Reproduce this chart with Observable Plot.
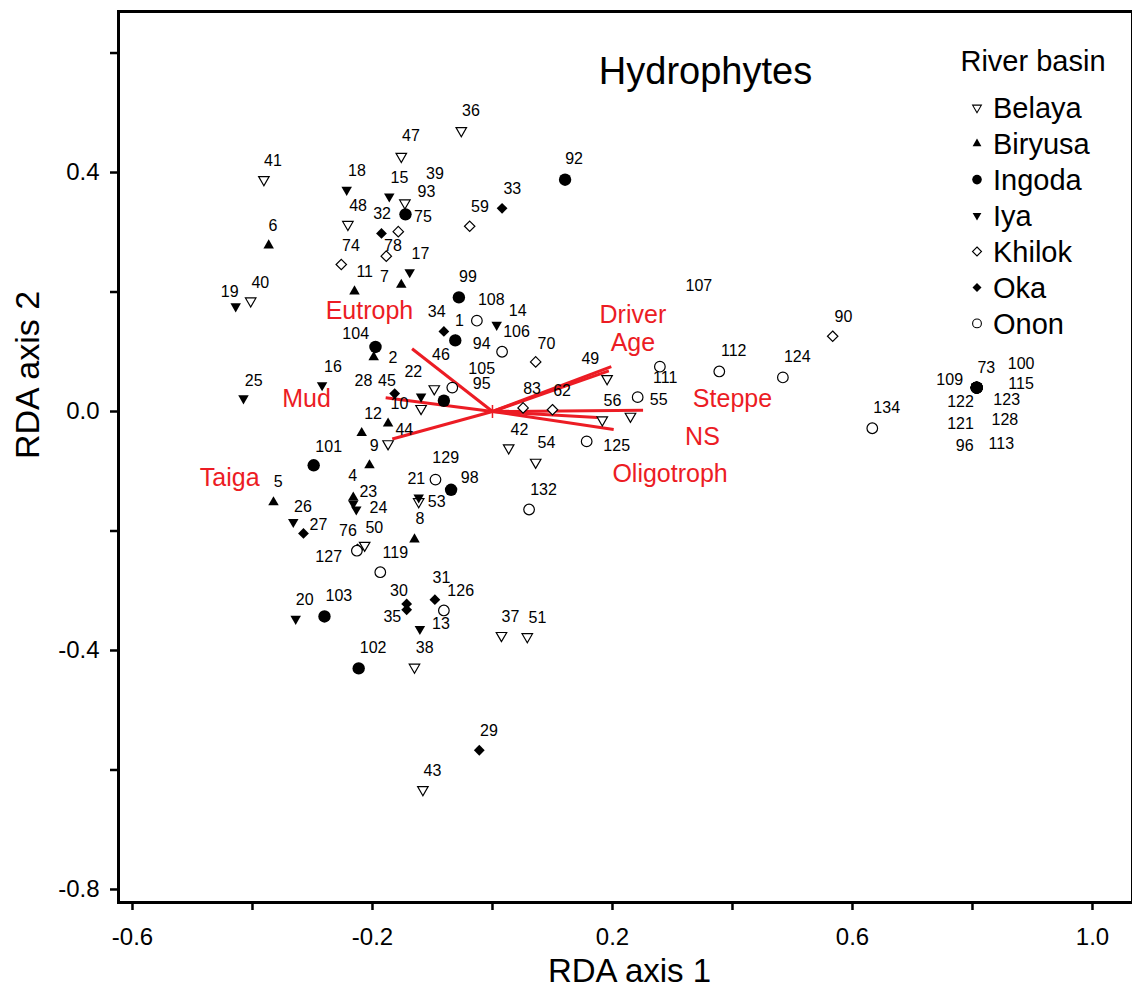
<!DOCTYPE html>
<html><head><meta charset="utf-8">
<script src="https://cdn.jsdelivr.net/npm/d3@7"></script>
<script src="https://cdn.jsdelivr.net/npm/@observablehq/plot@0.6"></script>
<style>
html,body{margin:0;padding:0;background:#fff;}
#chart{width:1132px;height:994px;}
</style></head><body><div id="chart"></div>
<script>
// ---------------- data ----------------
const basins = ["Belaya","Biryusa","Ingoda","Iya","Khilok","Oka","Onon"];
// each site: [id, RDA axis 1, RDA axis 2, label axis 1, label axis 2]
const belaya = [
 ["36",-0.052,0.470,-0.036,0.503],["47",-0.152,0.427,-0.136,0.461],["41",-0.381,0.388,-0.366,0.419],
 ["39",-0.146,0.349,-0.096,0.397],["48",-0.241,0.313,-0.224,0.344],["40",-0.403,0.185,-0.387,0.216],
 ["45",-0.119,0.005,-0.176,0.052],["46",-0.097,0.038,-0.086,0.095],["44",-0.174,-0.054,-0.147,-0.031],
 ["42",0.027,-0.061,0.045,-0.031],["54",0.072,-0.085,0.090,-0.053],["49",0.191,0.055,0.163,0.088],
 ["56",0.183,-0.014,0.200,0.017],["55",0.230,-0.008,0.277,0.020],["50",-0.213,-0.224,-0.197,-0.195],
 ["53",-0.123,-0.151,-0.093,-0.152],["38",-0.130,-0.428,-0.113,-0.396],["37",0.015,-0.375,0.030,-0.344],
 ["51",0.058,-0.377,0.075,-0.345],["43",-0.116,-0.633,-0.100,-0.602]
];
const biryusa = [
 ["6",-0.373,0.278,-0.366,0.311],["11",-0.230,0.201,-0.213,0.233],["7",-0.152,0.212,-0.180,0.226],
 ["2",-0.198,0.091,-0.166,0.090],["10",-0.174,-0.020,-0.155,0.013],["12",-0.218,-0.036,-0.199,-0.004],
 ["9",-0.205,-0.090,-0.197,-0.057],["4",-0.232,-0.144,-0.233,-0.108],["5",-0.365,-0.152,-0.357,-0.118],
 ["8",-0.130,-0.214,-0.121,-0.180],["1",-0.062,0.119,-0.055,0.152]
];
const iya = [
 ["18",-0.243,0.371,-0.226,0.402],["15",-0.172,0.360,-0.155,0.391],["17",-0.138,0.233,-0.120,0.264],
 ["19",-0.428,0.176,-0.438,0.201],["14",0.007,0.145,0.042,0.169],["16",-0.284,0.044,-0.266,0.074],
 ["25",-0.415,0.022,-0.398,0.052],["22",-0.119,0.025,-0.132,0.067],["21",-0.123,-0.144,-0.127,-0.113],
 ["23",-0.232,-0.154,-0.207,-0.134],["24",-0.227,-0.164,-0.190,-0.162],["26",-0.332,-0.185,-0.316,-0.159],
 ["20",-0.328,-0.347,-0.313,-0.316],["13",-0.121,-0.364,-0.086,-0.355]
];
const ingoda = [
 ["92",0.121,0.388,0.136,0.422],["93",-0.145,0.330,-0.110,0.367],["99",-0.056,0.191,-0.041,0.225],
 ["104",-0.195,0.108,-0.228,0.130],["94",-0.062,0.119,-0.018,0.114],["95",-0.081,0.018,-0.018,0.047],
 ["101",-0.298,-0.090,-0.273,-0.060],["98",-0.069,-0.131,-0.038,-0.111],["103",-0.280,-0.343,-0.256,-0.308],
 ["102",-0.223,-0.430,-0.199,-0.396],["96",0.807,0.040,0.787,-0.057],["100",0.807,0.040,0.881,0.080],
 ["73",0.807,0.040,0.823,0.073]
];
const khilok = [
 ["59",-0.038,0.310,-0.021,0.342],["75",-0.157,0.301,-0.116,0.325],["78",-0.177,0.260,-0.166,0.278],
 ["74",-0.252,0.246,-0.236,0.278],["70",0.072,0.083,0.090,0.114],["83",0.051,0.006,0.066,0.038],
 ["62",0.100,0.003,0.116,0.034],["90",0.567,0.126,0.585,0.158],["76",-0.225,-0.231,-0.241,-0.200]
];
const oka = [
 ["33",0.016,0.340,0.033,0.373],["32",-0.185,0.298,-0.184,0.330],["34",-0.081,0.134,-0.093,0.166],
 ["28",-0.163,0.030,-0.215,0.052],["27",-0.315,-0.204,-0.290,-0.189],["30",-0.143,-0.322,-0.156,-0.300],
 ["35",-0.143,-0.332,-0.167,-0.344],["31",-0.096,-0.315,-0.085,-0.279],["29",-0.022,-0.567,-0.006,-0.535]
];
const onon = [
 ["108",-0.026,0.152,-0.002,0.187],["106",0.016,0.100,0.040,0.134],["105",-0.067,0.040,-0.018,0.072],
 ["111",0.279,0.075,0.288,0.057],["112",0.378,0.067,0.402,0.101],["124",0.484,0.057,0.508,0.091],
 ["134",0.633,-0.028,0.657,0.006],["107",0.242,0.024,0.344,0.211],["125",0.157,-0.050,0.207,-0.058],
 ["129",-0.095,-0.114,-0.078,-0.077],["132",0.061,-0.164,0.085,-0.131],["127",-0.226,-0.233,-0.273,-0.244],
 ["119",-0.187,-0.269,-0.162,-0.236],["126",-0.081,-0.333,-0.053,-0.301],["109",0.807,0.040,0.762,0.053],
 ["115",0.807,0.040,0.881,0.047],["122",0.807,0.040,0.780,0.016],["123",0.807,0.040,0.857,0.020],
 ["121",0.807,0.040,0.780,-0.020],["128",0.807,0.040,0.854,-0.014],["113",0.807,0.040,0.848,-0.055]
];
// environmental variables (biplot arrows)
const envVars = ["Eutroph","Mud","Taiga","Driver","Age","Steppe","NS","Oligotroph"];
const envAxis1 = [-0.134,-0.178,-0.167,0.198,0.194,0.251,0.175,0.202];
const envAxis2 = [0.105,0.023,-0.046,0.075,0.068,0.002,-0.010,-0.030];
const envLabelAxis1 = [-0.205,-0.310,-0.438,0.234,0.234,0.400,0.350,0.296];
const envLabelAxis2 = [0.169,0.021,-0.112,0.161,0.114,0.021,-0.042,-0.104];
const origin = [0, 0];
// ticks
const xTicks = [-0.6,-0.4,-0.2,0,0.2,0.4,0.6,0.8,1.0];
const xTickLabels = ["-0.6","","-0.2","","0.2","","0.6","","1.0"];
const yTicks = [-0.8,-0.6,-0.4,-0.2,0,0.2,0.4,0.6];
const yTickLabels = ["-0.8","","-0.4","","0.0","","0.4",""];

// ---------------- symbols ----------------
const SQ3 = Math.sqrt(3);
const triDown = {draw(ctx, size){const r=Math.sqrt(size/Math.PI), a=1.75*r, R=a/SQ3;
  ctx.moveTo(0,R); ctx.lineTo(-a/2,-R/2); ctx.lineTo(a/2,-R/2); ctx.closePath();}};
const triUp = {draw(ctx, size){const r=Math.sqrt(size/Math.PI), a=1.75*r, R=a/SQ3;
  ctx.moveTo(0,-R); ctx.lineTo(-a/2,R/2); ctx.lineTo(a/2,R/2); ctx.closePath();}};
const diamond = {draw(ctx, size){const r=Math.sqrt(size/Math.PI), h=0.9*r;
  ctx.moveTo(0,-h); ctx.lineTo(h,0); ctx.lineTo(0,h); ctx.lineTo(-h,0); ctx.closePath();}};
const circ = {draw(ctx, size){const r=Math.sqrt(size/Math.PI);
  ctx.moveTo(r,0); ctx.arc(0,0,r,0,2*Math.PI);}};
const plusSym = {draw(ctx, size){const r=Math.sqrt(size/Math.PI);
  ctx.moveTo(0,-r); ctx.lineTo(0,r); ctx.moveTo(-r*0.6,0); ctx.lineTo(r*0.6,0);}};

const basinStyle = {
  Belaya:  {data: belaya,  symbol: triDown, filled: false, r: 6},
  Biryusa: {data: biryusa, symbol: triUp,   filled: true,  r: 6},
  Ingoda:  {data: ingoda,  symbol: circ,    filled: true,  r: 6.2},
  Iya:     {data: iya,     symbol: triDown, filled: true,  r: 6},
  Khilok:  {data: khilok,  symbol: diamond, filled: false, r: 5.8},
  Oka:     {data: oka,     symbol: diamond, filled: true,  r: 6},
  Onon:    {data: onon,    symbol: circ,    filled: false, r: 5.3}
};
const toRows = (arr, basin) => arr.map(([id,x,y,lx,ly]) => ({id, basin, x, y, lx, ly}));
const allSites = basins.flatMap(b => toRows(basinStyle[b].data, b));
const envRows = envVars.map((name,i) => ({name, x: envAxis1[i], y: envAxis2[i], lx: envLabelAxis1[i], ly: envLabelAxis2[i]}));

const RED = "#ec1c24";
const FONT = "'Liberation Sans', Arial, Helvetica, sans-serif";
const drawOrder = ["Belaya","Khilok","Onon","Biryusa","Iya","Oka","Ingoda"];

const dotMarks = drawOrder.map(b => {
  const s = basinStyle[b];
  return Plot.dot(toRows(s.data, b), {
    x: "x", y: "y", r: s.r, symbol: s.symbol,
    fill: s.filled ? "black" : "white",
    stroke: s.filled ? "none" : "black",
    strokeWidth: 1.2
  });
});

const fmt = (ticks, labels) => d => labels[ticks.findIndex(t => Math.abs(t - d) < 1e-9)] ?? "";

const chart = Plot.plot({
  width: 1132, height: 994,
  marginLeft: 118, marginRight: 0, marginTop: 11, marginBottom: 92,
  x: {domain: [-0.6233, 1.0667]},
  y: {domain: [-0.8218, 0.6695]},
  style: {fontFamily: FONT, background: "white", color: "black", overflow: "visible"},
  marks: [
    Plot.axisX(xTicks, {tickFormat: fmt(xTicks, xTickLabels), tickSize: 8, tickPadding: 17, fontSize: 24, strokeWidth: 2.5, label: null}),
    Plot.axisY(yTicks, {tickFormat: fmt(yTicks, yTickLabels), tickSize: 8, tickPadding: 11, fontSize: 24, strokeWidth: 2.5, label: null}),
    Plot.link(envRows, {x1: () => origin[0], y1: () => origin[1], x2: "x", y2: "y", stroke: RED, strokeWidth: 3}),
    Plot.dot([origin], {x: d => d[0], y: d => d[1], r: 6.5, symbol: plusSym, stroke: RED, fill: "none", strokeWidth: 1.5}),
    ...dotMarks,
    Plot.text(allSites, {x: "lx", y: "ly", text: "id", fontSize: 16, fill: "black"}),
    Plot.text(envRows, {x: "lx", y: "ly", text: "name", fontSize: 25, fill: RED}),
    Plot.text(["Hydrophytes"], {frameAnchor: "top", dx: 80, dy: 46, fontSize: 38, fill: "black"}),
    Plot.text(["RDA axis 1"], {frameAnchor: "bottom", dx: 4, dy: 79, fontSize: 33, fill: "black"}),
    Plot.text(["RDA axis 2"], {frameAnchor: "left", dx: -90, dy: 2, rotate: -90, fontSize: 34, fill: "black"}),
    Plot.frame({stroke: "black", strokeWidth: 3})
  ]
});
document.getElementById("chart").appendChild(chart);

// ---------------- legend (inside the plot, top right) ----------------
const svg = d3.select(chart);
const lg = svg.append("g").attr("font-family", FONT).attr("fill", "black").attr("text-anchor", "start");
lg.append("text").attr("x", 1033).attr("y", 71).attr("text-anchor", "middle").attr("font-size", 29).text("River basin");
basins.forEach((b, i) => {
  const s = basinStyle[b];
  const cy = 107.7 + i * 35.95;
  const rr = s.symbol === circ ? (s.filled ? 4.8 : 4.4) : 5;
  lg.append("path")
    .attr("transform", `translate(977,${cy})`)
    .attr("d", d3.symbol(s.symbol, Math.PI * rr * rr)())
    .attr("fill", s.filled ? "black" : "white")
    .attr("stroke", s.filled ? "none" : "black")
    .attr("stroke-width", 1.1);
  lg.append("text").attr("x", 993).attr("y", cy).attr("dy", "0.36em")
    .attr("text-anchor", "start").attr("font-size", 29).text(b);
});
</script>
</body></html>
